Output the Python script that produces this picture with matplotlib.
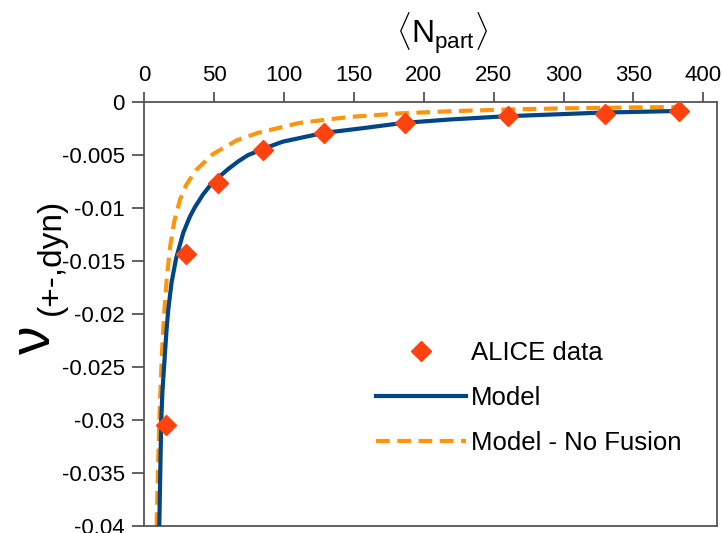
import matplotlib
matplotlib.use("Agg")
import matplotlib.pyplot as plt

plt.rcParams["font.family"] = ["Liberation Sans", "DejaVu Sans"]
plt.rcParams["mathtext.fontset"] = "custom"
plt.rcParams["mathtext.rm"] = "Liberation Sans"

# ALICE measurements (centrality classes)
npart_data = [15.8, 30.0, 52.8, 85.0, 128.9, 186.4, 260.5, 329.7, 382.8]
nu_data = [-0.0305, -0.0143, -0.0076, -0.00453, -0.00286, -0.00192,
           -0.00132, -0.00107, -0.00085]

# model with string fusion
npart_model = [10.7, 11.4, 12.1, 13.0, 14.8, 16.0, 17.2, 19.5, 22.8, 27.9,
               32.6, 36.2, 42, 48, 53, 60, 67, 74, 85, 99, 128, 159, 185,
               218, 259, 328, 383]
nu_model = [-0.040, -0.035, -0.030, -0.0272, -0.0236, -0.0213, -0.0195,
            -0.0170, -0.0147, -0.0123, -0.0108, -0.0099, -0.0087, -0.0077,
            -0.0071, -0.0063, -0.0056, -0.0050, -0.0044, -0.00372, -0.0029,
            -0.0024, -0.00195, -0.00163, -0.00132, -0.00097, -0.00082]

# model without fusion
npart_nofus = [8.8, 9.8, 11.0, 12.5, 14.0, 16.0, 18.5, 21.5, 25.5, 30, 37,
               49, 66, 81, 111, 147, 183, 218, 260, 306, 383]
nu_nofus = [-0.040, -0.0345, -0.0290, -0.0240, -0.0203, -0.0167, -0.0136,
            -0.0112, -0.0092, -0.0078, -0.0064, -0.0049, -0.0036, -0.0029,
            -0.00195, -0.00138, -0.00105, -0.00085, -0.00068, -0.00056,
            -0.00044]

fig = plt.figure(figsize=(7.22, 5.33), dpi=100)
ax = fig.add_axes([0.1999, 0.0131, 0.7936, 0.7950])

ax.plot(npart_data, nu_data, linestyle="none", marker="D", markersize=10,
        color="#ff420e", label="ALICE data", zorder=4)
ax.plot(npart_model, nu_model, color="#004586", lw=3, label="Model", zorder=3)
ax.plot(npart_nofus, nu_nofus, color="#ff950e", lw=3, dashes=(3.3, 1.8),
        label="Model - No Fusion", zorder=2)

ax.set_xlim(0, 410)
ax.set_ylim(-0.04, 0)
ax.set_xticks(range(0, 401, 50))
ax.set_yticks([0, -0.005, -0.01, -0.015, -0.02, -0.025, -0.03, -0.035, -0.04])
ax.set_yticklabels(["0", "-0.005", "-0.01", "-0.015", "-0.02", "-0.025",
                    "-0.03", "-0.035", "-0.04"])

ax.xaxis.tick_top()
ax.tick_params(axis="x", direction="out", length=7, width=1.3, color="#555555",
               labelsize=16, pad=5)
ax.tick_params(axis="y", direction="out", length=9, width=1.3, color="#555555",
               labelsize=16, pad=5)
for s in ax.spines.values():
    s.set_color("#555555")
    s.set_linewidth(1.3)

fig.text(442 / 722, 1 - 33 / 533, r"$\langle\mathrm{N}_{\mathrm{part}}\rangle$",
         fontsize=23, ha="center", va="center")
fig.text(35 / 722, 1 - 340 / 533, "ν", fontsize=41, rotation=90,
         ha="center", va="center")
fig.text(51 / 722, 1 - 257 / 533, "(+-,dyn)", fontsize=24, rotation=90,
         ha="center", va="center")

ax.legend(loc="center left", bbox_to_anchor=(376 / 722, 1 - 398 / 533),
          bbox_transform=fig.transFigure, frameon=False, fontsize=18.5,
          handlelength=3.5, handletextpad=0.2, labelspacing=0.8,
          borderpad=0, borderaxespad=0)

fig.savefig("out.png", dpi=100)
